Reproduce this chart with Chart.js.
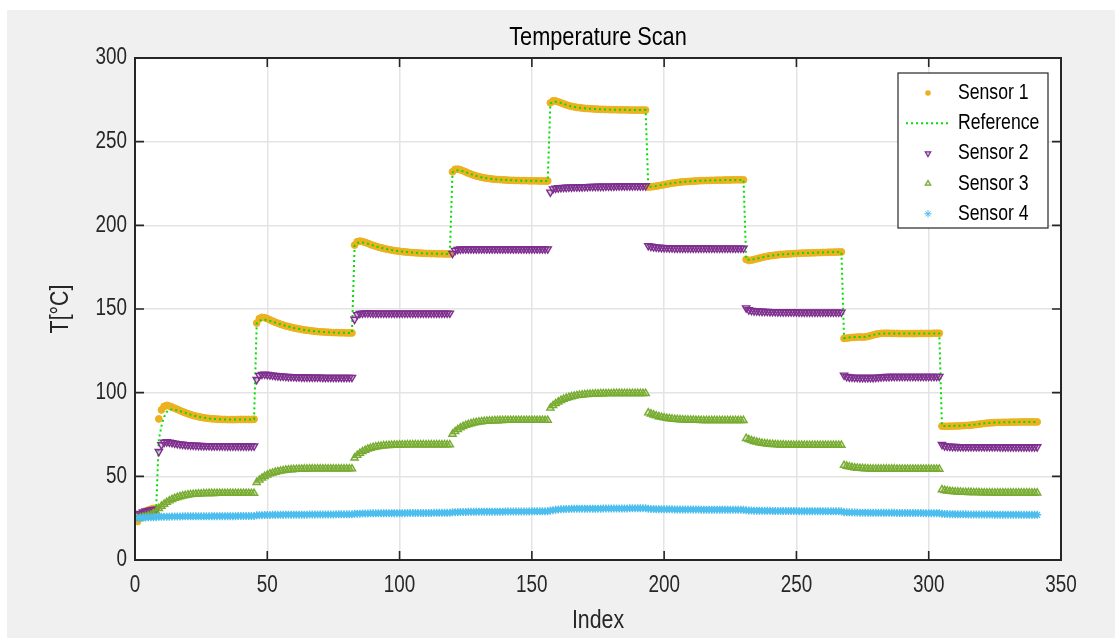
<!DOCTYPE html>
<html>
<head>
<meta charset="utf-8">
<title>Temperature Scan</title>
<script src="https://cdn.jsdelivr.net/npm/chart.js@4.4.1/dist/chart.umd.min.js"></script>
<style>
  html, body { margin: 0; padding: 0; background: #ffffff; }
  canvas { display: block; }
</style>
</head>
<body>
<canvas id="scan" width="1115" height="638"></canvas>
<script>
// ---- measured temperatures, one value per sample index (1..341) ----
// 8 ambient samples, then nine set-point plateaus of 37 samples each

const sensor1 = [
  23.0, 26.5, 28.0, 29.0, 29.8, 30.4, 30.8, 31.0,
  84.3, 89.7, 91.8, 92.4, 92.0, 91.4, 90.7, 90.0, 89.3, 88.6,
  88.0, 87.4, 86.9, 86.4, 86.0, 85.6, 85.3, 85.0, 84.8, 84.6,
  84.4, 84.3, 84.2, 84.1, 84.0, 84.0, 83.9, 83.9, 83.9, 83.9,
  84.0, 84.0, 84.0, 84.0, 84.0, 84.0, 84.1,
  141.6, 144.3, 145.0, 144.8, 144.2, 143.5, 142.8, 142.1, 141.5, 140.9,
  140.4, 139.9, 139.5, 139.1, 138.7, 138.4, 138.1, 137.8, 137.5, 137.3,
  137.1, 136.9, 136.7, 136.5, 136.4, 136.3, 136.2, 136.1, 136.0, 135.9,
  135.9, 135.8, 135.8, 135.8, 135.7, 135.7, 135.7,
  188.2, 190.2, 190.6, 190.3, 189.8, 189.2, 188.6, 188.0, 187.5, 187.0,
  186.6, 186.2, 185.8, 185.5, 185.2, 184.9, 184.7, 184.5, 184.3, 184.1,
  184.0, 183.8, 183.7, 183.6, 183.5, 183.4, 183.3, 183.2, 183.2, 183.1,
  183.1, 183.0, 183.0, 183.0, 182.9, 182.9, 182.9,
  232.0, 233.5, 233.6, 233.2, 232.6, 231.9, 231.2, 230.6, 230.0, 229.5,
  229.1, 228.7, 228.4, 228.1, 227.9, 227.7, 227.5, 227.4, 227.3, 227.2,
  227.1, 227.0, 226.9, 226.9, 226.8, 226.8, 226.7, 226.7, 226.7, 226.6,
  226.6, 226.6, 226.6, 226.5, 226.5, 226.5, 226.5,
  273.2, 274.4, 274.3, 273.8, 273.2, 272.6, 272.0, 271.5, 271.1, 270.8,
  270.5, 270.3, 270.1, 269.9, 269.8, 269.7, 269.6, 269.5, 269.4, 269.3,
  269.3, 269.2, 269.2, 269.1, 269.1, 269.1, 269.0, 269.0, 269.0, 269.0,
  268.9, 268.9, 268.9, 268.9, 268.9, 268.9, 268.9,
  222.9, 223.0, 223.2, 223.4, 223.7, 224.0, 224.3, 224.6, 224.9, 225.2,
  225.4, 225.6, 225.8, 226.0, 226.1, 226.2, 226.3, 226.4, 226.5, 226.6,
  226.7, 226.7, 226.8, 226.8, 226.9, 226.9, 227.0, 227.0, 227.0, 227.1,
  227.1, 227.1, 227.2, 227.2, 227.2, 227.2, 227.2,
  179.6, 179.0, 179.2, 179.6, 180.0, 180.4, 180.8, 181.2, 181.5, 181.8,
  182.0, 182.2, 182.4, 182.6, 182.7, 182.8, 182.9, 183.0, 183.1, 183.2,
  183.3, 183.4, 183.4, 183.5, 183.5, 183.6, 183.6, 183.7, 183.7, 183.8,
  183.8, 183.9, 183.9, 184.0, 184.0, 184.1, 184.1,
  132.4, 132.6, 132.8, 133.0, 133.1, 133.2, 133.3, 133.2, 133.3, 133.6,
  134.0, 134.5, 134.9, 135.2, 135.4, 135.5, 135.5, 135.5, 135.4, 135.4,
  135.4, 135.3, 135.3, 135.3, 135.3, 135.3, 135.3, 135.3, 135.4, 135.4,
  135.4, 135.4, 135.4, 135.4, 135.5, 135.5, 135.5,
  80.0, 79.9, 79.9, 80.0, 80.0, 80.1, 80.1, 80.2, 80.3, 80.4,
  80.5, 80.6, 80.8, 81.0, 81.2, 81.4, 81.6, 81.8, 81.9, 82.0,
  82.1, 82.2, 82.2, 82.3, 82.3, 82.3, 82.4, 82.4, 82.4, 82.4,
  82.5, 82.5, 82.5, 82.5, 82.5, 82.5, 82.5
];

const reference = [
  24.0, 25.8, 27.2, 28.2, 29.0, 29.5, 29.9, 30.2,
  72.0, 80.0, 85.5, 88.5, 89.8, 90.0, 89.8, 89.4, 89.0, 88.5,
  88.0, 87.4, 86.9, 86.4, 86.0, 85.6, 85.3, 85.0, 84.8, 84.6,
  84.4, 84.3, 84.2, 84.1, 84.0, 84.0, 83.9, 83.9, 83.9, 83.9,
  84.0, 84.0, 84.0, 84.0, 84.0, 84.0, 84.1,
  141.3, 143.0, 143.6, 143.6, 143.3, 142.9, 142.4, 141.9, 141.4, 140.9,
  140.4, 139.9, 139.5, 139.1, 138.7, 138.4, 138.1, 137.8, 137.5, 137.3,
  137.1, 136.9, 136.7, 136.5, 136.4, 136.3, 136.2, 136.1, 136.0, 135.9,
  135.9, 135.8, 135.8, 135.8, 135.7, 135.7, 135.7,
  187.8, 189.4, 189.8, 189.7, 189.4, 189.0, 188.5, 188.0, 187.5, 187.0,
  186.6, 186.2, 185.8, 185.5, 185.2, 184.9, 184.7, 184.5, 184.3, 184.1,
  184.0, 183.8, 183.7, 183.6, 183.5, 183.4, 183.3, 183.2, 183.2, 183.1,
  183.1, 183.0, 183.0, 183.0, 182.9, 182.9, 182.9,
  231.6, 232.7, 232.9, 232.7, 232.3, 231.8, 231.2, 230.6, 230.0, 229.5,
  229.1, 228.7, 228.4, 228.1, 227.9, 227.7, 227.5, 227.4, 227.3, 227.2,
  227.1, 227.0, 226.9, 226.9, 226.8, 226.8, 226.7, 226.7, 226.7, 226.6,
  226.6, 226.6, 226.6, 226.5, 226.5, 226.5, 226.5,
  272.8, 273.8, 273.9, 273.6, 273.1, 272.6, 272.0, 271.5, 271.1, 270.8,
  270.5, 270.3, 270.1, 269.9, 269.8, 269.7, 269.6, 269.5, 269.4, 269.3,
  269.3, 269.2, 269.2, 269.1, 269.1, 269.1, 269.0, 269.0, 269.0, 269.0,
  268.9, 268.9, 268.9, 268.9, 268.9, 268.9, 268.9,
  223.0, 223.1, 223.3, 223.5, 223.8, 224.1, 224.4, 224.7, 224.9, 225.2,
  225.4, 225.6, 225.8, 226.0, 226.1, 226.2, 226.3, 226.4, 226.5, 226.6,
  226.7, 226.7, 226.8, 226.8, 226.9, 226.9, 227.0, 227.0, 227.0, 227.1,
  227.1, 227.1, 227.1, 227.1, 227.1, 227.1, 227.1,
  179.8, 179.4, 179.5, 179.8, 180.1, 180.5, 180.9, 181.2, 181.5, 181.8,
  182.0, 182.2, 182.4, 182.6, 182.7, 182.8, 182.9, 183.0, 183.1, 183.2,
  183.3, 183.4, 183.4, 183.5, 183.5, 183.6, 183.6, 183.7, 183.7, 183.8,
  183.8, 183.9, 183.9, 184.0, 184.0, 184.0, 184.0,
  132.6, 132.8, 133.0, 133.1, 133.2, 133.3, 133.3, 133.3, 133.4, 133.7,
  134.1, 134.5, 134.9, 135.2, 135.3, 135.4, 135.4, 135.4, 135.4, 135.4,
  135.3, 135.3, 135.3, 135.3, 135.3, 135.3, 135.3, 135.3, 135.4, 135.4,
  135.4, 135.4, 135.4, 135.4, 135.4, 135.4, 135.4,
  80.2, 80.1, 80.1, 80.1, 80.1, 80.2, 80.2, 80.3, 80.4, 80.5,
  80.6, 80.7, 80.9, 81.1, 81.3, 81.5, 81.7, 81.8, 81.9, 82.0,
  82.1, 82.2, 82.2, 82.3, 82.3, 82.3, 82.4, 82.4, 82.4, 82.4,
  82.4, 82.4, 82.4, 82.4, 82.4, 82.4, 82.4
];

const sensor2 = [
  26.8, 27.8, 28.6, 29.2, 29.6, 29.9, 30.1, 30.3,
  64.8, 68.8, 70.3, 70.6, 70.4, 70.1, 69.8, 69.5, 69.3, 69.1,
  68.9, 68.8, 68.7, 68.6, 68.5, 68.4, 68.4, 68.3, 68.3, 68.3,
  68.2, 68.2, 68.2, 68.2, 68.2, 68.1, 68.1, 68.1, 68.1, 68.1,
  68.1, 68.1, 68.1, 68.1, 68.1, 68.1, 68.1,
  107.8, 110.2, 110.9, 111.0, 110.8, 110.6, 110.4, 110.2, 110.0, 109.9,
  109.8, 109.7, 109.6, 109.5, 109.5, 109.4, 109.4, 109.3, 109.3, 109.3,
  109.2, 109.2, 109.2, 109.2, 109.2, 109.1, 109.1, 109.1, 109.1, 109.1,
  109.1, 109.1, 109.1, 109.1, 109.1, 109.1, 109.1,
  143.8, 146.6, 147.3, 147.5, 147.6, 147.6, 147.6, 147.5, 147.5, 147.5,
  147.5, 147.5, 147.5, 147.5, 147.5, 147.5, 147.5, 147.5, 147.5, 147.5,
  147.5, 147.5, 147.5, 147.5, 147.5, 147.5, 147.5, 147.5, 147.5, 147.5,
  147.5, 147.5, 147.5, 147.5, 147.5, 147.5, 147.5,
  183.2, 185.0, 185.6, 185.8, 185.9, 185.9, 185.9, 185.9, 185.9, 185.9,
  185.9, 185.9, 185.9, 185.9, 185.9, 185.9, 185.9, 185.9, 185.9, 185.9,
  185.9, 185.9, 185.9, 185.9, 185.9, 185.9, 185.9, 185.9, 185.9, 185.9,
  185.9, 185.9, 185.9, 185.9, 185.9, 185.9, 185.9,
  219.8, 221.7, 222.2, 222.4, 222.5, 222.6, 222.7, 222.8, 222.8, 222.9,
  222.9, 223.0, 223.0, 223.1, 223.1, 223.2, 223.2, 223.2, 223.3, 223.3,
  223.3, 223.4, 223.4, 223.4, 223.4, 223.5, 223.5, 223.5, 223.5, 223.5,
  223.6, 223.6, 223.6, 223.6, 223.6, 223.6, 223.6,
  187.8, 187.4, 187.1, 186.9, 186.8, 186.7, 186.6, 186.6, 186.5, 186.5,
  186.4, 186.4, 186.4, 186.4, 186.4, 186.4, 186.4, 186.4, 186.4, 186.4,
  186.4, 186.4, 186.4, 186.4, 186.3, 186.3, 186.3, 186.3, 186.3, 186.3,
  186.3, 186.3, 186.3, 186.3, 186.3, 186.3, 186.3,
  150.6, 149.5, 149.1, 148.9, 148.8, 148.7, 148.6, 148.5, 148.5, 148.4,
  148.4, 148.4, 148.3, 148.3, 148.3, 148.3, 148.2, 148.2, 148.2, 148.2,
  148.1, 148.1, 148.1, 148.1, 148.1, 148.1, 148.1, 148.1, 148.1, 148.1,
  148.1, 148.1, 148.1, 148.1, 148.1, 148.1, 148.1,
  110.4, 109.6, 109.3, 109.2, 109.1, 109.1, 109.0, 109.0, 109.0, 109.0,
  109.0, 109.0, 109.1, 109.2, 109.4, 109.5, 109.6, 109.6, 109.7, 109.7,
  109.7, 109.7, 109.7, 109.7, 109.7, 109.7, 109.7, 109.7, 109.7, 109.7,
  109.7, 109.7, 109.7, 109.7, 109.7, 109.7, 109.7,
  69.0, 68.2, 68.0, 67.9, 67.8, 67.8, 67.7, 67.7, 67.7, 67.7,
  67.7, 67.7, 67.7, 67.7, 67.7, 67.7, 67.7, 67.7, 67.7, 67.7,
  67.7, 67.7, 67.6, 67.6, 67.6, 67.6, 67.6, 67.6, 67.6, 67.6,
  67.6, 67.6, 67.6, 67.6, 67.6, 67.6, 67.6
];

const sensor3 = [
  24.8, 25.2, 25.6, 26.0, 26.4, 26.9, 27.6, 28.8,
  30.8, 32.2, 33.4, 34.5, 35.4, 36.2, 36.9, 37.4, 37.9, 38.3,
  38.6, 38.9, 39.1, 39.3, 39.4, 39.5, 39.6, 39.7, 39.7, 39.8,
  39.8, 39.8, 39.9, 39.9, 39.9, 39.9, 39.9, 39.9, 39.9, 39.9,
  39.9, 39.9, 39.9, 39.9, 39.9, 39.9, 39.9,
  46.4, 47.8, 49.0, 50.0, 50.8, 51.5, 52.0, 52.5, 52.9, 53.2,
  53.5, 53.7, 53.9, 54.0, 54.1, 54.2, 54.3, 54.3, 54.4, 54.4,
  54.5, 54.5, 54.5, 54.5, 54.5, 54.5, 54.5, 54.5, 54.5, 54.5,
  54.5, 54.5, 54.5, 54.5, 54.5, 54.5, 54.5,
  61.0, 62.6, 63.8, 64.8, 65.6, 66.3, 66.8, 67.3, 67.6, 67.9,
  68.1, 68.3, 68.4, 68.5, 68.6, 68.7, 68.7, 68.8, 68.8, 68.8,
  68.9, 68.9, 68.9, 68.9, 68.9, 68.9, 68.9, 68.9, 68.9, 68.9,
  68.9, 68.9, 68.9, 68.9, 68.9, 68.9, 68.9,
  75.2, 76.8, 78.0, 79.0, 79.8, 80.5, 81.0, 81.5, 81.9, 82.2,
  82.5, 82.7, 82.9, 83.0, 83.1, 83.2, 83.3, 83.3, 83.4, 83.4,
  83.5, 83.5, 83.5, 83.5, 83.5, 83.5, 83.5, 83.5, 83.5, 83.5,
  83.5, 83.5, 83.5, 83.5, 83.5, 83.5, 83.5,
  90.8, 92.3, 93.5, 94.5, 95.4, 96.1, 96.7, 97.2, 97.6, 98.0,
  98.3, 98.5, 98.7, 98.9, 99.0, 99.1, 99.2, 99.3, 99.3, 99.4,
  99.4, 99.5, 99.5, 99.5, 99.6, 99.6, 99.6, 99.6, 99.6, 99.6,
  99.6, 99.6, 99.6, 99.6, 99.6, 99.6, 99.6,
  88.0, 87.3, 86.7, 86.2, 85.7, 85.3, 85.0, 84.7, 84.5, 84.3,
  84.1, 84.0, 83.9, 83.8, 83.7, 83.7, 83.6, 83.6, 83.5, 83.5,
  83.4, 83.4, 83.4, 83.4, 83.4, 83.4, 83.4, 83.4, 83.4, 83.4,
  83.4, 83.4, 83.4, 83.4, 83.4, 83.4, 83.4,
  72.7, 72.0, 71.4, 70.9, 70.5, 70.1, 69.8, 69.6, 69.4, 69.2,
  69.1, 69.0, 68.9, 68.8, 68.8, 68.7, 68.7, 68.7, 68.6, 68.6,
  68.6, 68.6, 68.6, 68.6, 68.6, 68.6, 68.6, 68.6, 68.6, 68.6,
  68.6, 68.6, 68.6, 68.6, 68.6, 68.6, 68.6,
  56.6, 56.1, 55.7, 55.4, 55.1, 54.9, 54.8, 54.7, 54.6, 54.5,
  54.4, 54.4, 54.4, 54.4, 54.4, 54.4, 54.4, 54.4, 54.4, 54.4,
  54.3, 54.3, 54.3, 54.3, 54.3, 54.3, 54.3, 54.3, 54.3, 54.3,
  54.3, 54.3, 54.3, 54.3, 54.3, 54.3, 54.3,
  42.0, 41.6, 41.3, 41.1, 40.9, 40.8, 40.7, 40.6, 40.5, 40.5,
  40.4, 40.4, 40.3, 40.3, 40.3, 40.2, 40.2, 40.2, 40.2, 40.1,
  40.1, 40.1, 40.1, 40.1, 40.1, 40.1, 40.1, 40.1, 40.1, 40.1,
  40.1, 40.1, 40.1, 40.1, 40.1, 40.1, 40.1
];

const sensor4 = [
  25.0, 25.2, 25.3, 25.4, 25.5, 25.5, 25.6, 25.6,
  25.8, 25.8, 25.9, 25.9, 25.9, 26.0, 26.0, 26.0, 26.0, 26.1,
  26.1, 26.1, 26.1, 26.1, 26.1, 26.1, 26.1, 26.1, 26.1, 26.1,
  26.2, 26.2, 26.2, 26.2, 26.2, 26.2, 26.2, 26.2, 26.2, 26.2,
  26.3, 26.3, 26.3, 26.3, 26.3, 26.3, 26.3,
  26.7, 26.8, 26.8, 26.9, 26.9, 26.9, 27.0, 27.0, 27.0, 27.0,
  27.1, 27.1, 27.1, 27.1, 27.1, 27.1, 27.1, 27.1, 27.1, 27.1,
  27.2, 27.2, 27.2, 27.2, 27.2, 27.2, 27.2, 27.2, 27.2, 27.2,
  27.3, 27.3, 27.3, 27.3, 27.3, 27.3, 27.3,
  27.6, 27.7, 27.7, 27.8, 27.8, 27.8, 27.9, 27.9, 27.9, 27.9,
  28.0, 28.0, 28.0, 28.0, 28.0, 28.0, 28.0, 28.0, 28.0, 28.0,
  28.1, 28.1, 28.1, 28.1, 28.1, 28.1, 28.1, 28.1, 28.1, 28.1,
  28.2, 28.2, 28.2, 28.2, 28.2, 28.2, 28.2,
  28.5, 28.6, 28.6, 28.7, 28.7, 28.7, 28.8, 28.8, 28.8, 28.8,
  28.9, 28.9, 28.9, 28.9, 28.9, 28.9, 28.9, 28.9, 28.9, 28.9,
  29.0, 29.0, 29.0, 29.0, 29.0, 29.0, 29.0, 29.0, 29.0, 29.0,
  29.1, 29.1, 29.1, 29.1, 29.1, 29.1, 29.1,
  29.6, 29.8, 30.0, 30.2, 30.3, 30.4, 30.5, 30.5, 30.6, 30.6,
  30.7, 30.7, 30.7, 30.7, 30.7, 30.7, 30.7, 30.7, 30.7, 30.7,
  30.8, 30.8, 30.8, 30.8, 30.8, 30.8, 30.8, 30.8, 30.8, 30.8,
  30.9, 30.9, 30.9, 30.9, 30.9, 30.9, 30.9,
  30.6, 30.5, 30.5, 30.4, 30.4, 30.4, 30.3, 30.3, 30.3, 30.3,
  30.2, 30.2, 30.2, 30.2, 30.2, 30.2, 30.2, 30.2, 30.2, 30.2,
  30.1, 30.1, 30.1, 30.1, 30.1, 30.1, 30.1, 30.1, 30.1, 30.1,
  30.0, 30.0, 30.0, 30.0, 30.0, 30.0, 30.0,
  29.7, 29.6, 29.6, 29.5, 29.5, 29.5, 29.4, 29.4, 29.4, 29.4,
  29.3, 29.3, 29.3, 29.3, 29.3, 29.3, 29.3, 29.3, 29.3, 29.3,
  29.2, 29.2, 29.2, 29.2, 29.2, 29.2, 29.2, 29.2, 29.2, 29.2,
  29.1, 29.1, 29.1, 29.1, 29.1, 29.1, 29.1,
  28.6, 28.5, 28.5, 28.4, 28.4, 28.4, 28.3, 28.3, 28.3, 28.3,
  28.2, 28.2, 28.2, 28.2, 28.2, 28.2, 28.2, 28.2, 28.2, 28.2,
  28.1, 28.1, 28.1, 28.1, 28.1, 28.1, 28.1, 28.1, 28.1, 28.1,
  28.0, 28.0, 28.0, 28.0, 28.0, 28.0, 28.0,
  27.6, 27.5, 27.5, 27.4, 27.4, 27.4, 27.3, 27.3, 27.3, 27.3,
  27.2, 27.2, 27.2, 27.2, 27.2, 27.2, 27.2, 27.2, 27.2, 27.2,
  27.1, 27.1, 27.1, 27.1, 27.1, 27.1, 27.1, 27.1, 27.1, 27.1,
  27.0, 27.0, 27.0, 27.0, 27.0, 27.0, 27.0
];

const seriesNames = ['Sensor 1', 'Reference', 'Sensor 2', 'Sensor 3', 'Sensor 4'];
const xTickValues = [0, 50, 100, 150, 200, 250, 300, 350];
const yTickValues = [0, 50, 100, 150, 200, 250, 300];

// ---- styling ----
const FONT = "'Liberation Sans', Arial, sans-serif";
const TEXT_CONDENSE = 0.82;   // narrow lettering, as in a condensed sans
const INK = '#262626';
const COLORS = {
  s1: '#EDB120',
  ref: '#00E000',
  s2: '#7E2F8E',
  s3: '#77AC30',
  s4: '#4DBEEE'
};

const canvas = document.getElementById('scan');
const ctx2d = canvas.getContext('2d');

// draw every label horizontally condensed around its anchor point
const nativeFillText = ctx2d.fillText.bind(ctx2d);
ctx2d.fillText = function (text, x, y, maxWidth) {
  ctx2d.save();
  ctx2d.translate(x, y);
  ctx2d.scale(TEXT_CONDENSE, 1);
  if (maxWidth === undefined) nativeFillText(text, 0, 0);
  else nativeFillText(text, 0, 0, maxWidth / TEXT_CONDENSE);
  ctx2d.restore();
};

// x is the sample index, starting at 1
function indexed(values) {
  return values.map((v, i) => ({ x: i + 1, y: v }));
}

// grey figure surround with a white axes area
const figureBackground = {
  id: 'figureBackground',
  beforeDraw(chart) {
    const { ctx, chartArea: a, width, height } = chart;
    ctx.save();
    ctx.fillStyle = '#ffffff';
    ctx.fillRect(0, 0, width, height);
    ctx.fillStyle = '#f0f0f0';
    ctx.fillRect(7, 10, width - 7, height - 10);
    ctx.fillStyle = '#ffffff';
    ctx.fillRect(a.left, a.top, a.right - a.left, a.bottom - a.top);
    ctx.restore();
  }
};

// closed axes box with inward tick marks on all four sides
const axesFrame = {
  id: 'axesFrame',
  afterDatasetsDraw(chart) {
    const { ctx, chartArea: a, scales } = chart;
    const len = 9;
    ctx.save();
    ctx.strokeStyle = INK;
    ctx.lineWidth = 1.6;
    ctx.beginPath();
    xTickValues.forEach(v => {
      const px = scales.x.getPixelForValue(v);
      ctx.moveTo(px, a.bottom); ctx.lineTo(px, a.bottom - len);
      ctx.moveTo(px, a.top); ctx.lineTo(px, a.top + len);
    });
    yTickValues.forEach(v => {
      const py = scales.y.getPixelForValue(v);
      ctx.moveTo(a.left, py); ctx.lineTo(a.left + len, py);
      ctx.moveTo(a.right, py); ctx.lineTo(a.right - len, py);
    });
    ctx.stroke();
    ctx.lineWidth = 2;
    ctx.strokeRect(a.left, a.top, a.right - a.left, a.bottom - a.top);
    ctx.restore();
  }
};

function drawMarker(ctx, style, x, y, r, rotation) {
  ctx.beginPath();
  if (style === 'circle') {
    ctx.arc(x, y, r, 0, Math.PI * 2);
    ctx.fill();
    return;
  }
  if (style === 'triangle') {
    const rot = (rotation || 0) * Math.PI / 180;
    for (let k = 0; k < 3; k++) {
      const ang = rot - Math.PI / 2 + k * 2 * Math.PI / 3;
      const px = x + r * Math.cos(ang), py = y + r * Math.sin(ang);
      if (k === 0) ctx.moveTo(px, py); else ctx.lineTo(px, py);
    }
    ctx.closePath();
    ctx.fill();
    ctx.stroke();
    return;
  }
  if (style === 'star') {
    ctx.moveTo(x - r, y); ctx.lineTo(x + r, y);
    ctx.moveTo(x, y - r); ctx.lineTo(x, y + r);
    const d = r * 0.707;
    ctx.moveTo(x - d, y - d); ctx.lineTo(x + d, y + d);
    ctx.moveTo(x - d, y + d); ctx.lineTo(x + d, y - d);
    ctx.stroke();
  }
}

// boxed legend in the upper right of the axes
const boxedLegend = {
  id: 'boxedLegend',
  afterDraw(chart) {
    const { ctx, chartArea: a } = chart;
    const w = 150, h = 155;
    const x0 = a.right - 13 - w, y0 = a.top + 15;
    ctx.save();
    ctx.fillStyle = '#ffffff';
    ctx.fillRect(x0, y0, w, h);
    ctx.strokeStyle = INK;
    ctx.lineWidth = 1.2;
    ctx.strokeRect(x0, y0, w, h);
    ctx.font = '21.5px ' + FONT;
    ctx.textBaseline = 'middle';
    ctx.textAlign = 'left';
    chart.data.datasets.forEach((ds, i) => {
      const cy = y0 + 20 + i * 30.2;
      const cx = x0 + 30;
      ctx.save();
      if (ds.pointRadius === 0) {
        ctx.strokeStyle = ds.borderColor;
        ctx.lineWidth = ds.borderWidth;
        ctx.setLineDash(ds.borderDash);
        ctx.beginPath();
        ctx.moveTo(x0 + 8, cy);
        ctx.lineTo(x0 + 53, cy);
        ctx.stroke();
      } else {
        ctx.fillStyle = ds.pointBackgroundColor;
        ctx.strokeStyle = ds.pointBorderColor;
        ctx.lineWidth = ds.pointStyle === 'star' ? 1 : 1.2;
        const r = ds.pointStyle === 'circle' ? 2.8 : (ds.pointStyle === 'star' ? 3.6 : 3.2);
        drawMarker(ctx, ds.pointStyle, cx, cy, r, ds.pointRotation);
      }
      ctx.restore();
      ctx.fillStyle = '#000000';
      ctx.fillText(ds.label, x0 + 60, cy);
    });
    ctx.restore();
  }
};

const datasets = [
  {
    label: seriesNames[0], data: indexed(sensor1), order: 5,
    showLine: false, pointStyle: 'circle', pointRadius: 3.4, pointRotation: 0,
    pointBackgroundColor: COLORS.s1, pointBorderColor: COLORS.s1, pointBorderWidth: 1,
    borderColor: COLORS.s1, backgroundColor: COLORS.s1
  },
  {
    label: seriesNames[1], data: indexed(reference), order: 4,
    showLine: true, borderColor: COLORS.ref, borderWidth: 2, borderDash: [2, 3],
    pointRadius: 0, tension: 0, fill: false
  },
  {
    label: seriesNames[2], data: indexed(sensor2), order: 3,
    showLine: false, pointStyle: 'triangle', pointRadius: 4.2, pointRotation: 180,
    pointBackgroundColor: 'rgba(126,47,142,0.25)', pointBorderColor: COLORS.s2, pointBorderWidth: 1.4,
    borderColor: COLORS.s2
  },
  {
    label: seriesNames[3], data: indexed(sensor3), order: 2,
    showLine: false, pointStyle: 'triangle', pointRadius: 4.2, pointRotation: 0,
    pointBackgroundColor: 'rgba(119,172,48,0.25)', pointBorderColor: COLORS.s3, pointBorderWidth: 1.4,
    borderColor: COLORS.s3
  },
  {
    label: seriesNames[4], data: indexed(sensor4), order: 1,
    showLine: false, pointStyle: 'star', pointRadius: 4, pointRotation: 0,
    pointBackgroundColor: COLORS.s4, pointBorderColor: COLORS.s4, pointBorderWidth: 1.4,
    borderColor: COLORS.s4
  }
];

new Chart(canvas, {
  type: 'line',
  data: { datasets },
  plugins: [figureBackground, axesFrame, boxedLegend],
  options: {
    responsive: false,
    animation: false,
    devicePixelRatio: 1,
    events: [],
    layout: { padding: { left: 0, right: 54, top: 0, bottom: 0 } },
    plugins: {
      legend: { display: false },
      tooltip: { enabled: false },
      title: {
        display: true,
        text: 'Temperature Scan',
        fullSize: false,
        color: '#000000',
        font: { family: FONT, size: 26.5, weight: 'normal', lineHeight: 1.2 },
        padding: { top: 22.1, bottom: 4.1 }
      }
    },
    scales: {
      x: {
        type: 'linear',
        min: 0, max: 350,
        afterBuildTicks(scale) { scale.ticks = xTickValues.map(v => ({ value: v })); },
        ticks: {
          color: INK, padding: 12, maxRotation: 0, autoSkip: false,
          font: { family: FONT, size: 23, lineHeight: 1.2 }
        },
        grid: { color: '#e4e4e4', lineWidth: 1.5, drawTicks: false },
        border: { display: false },
        title: {
          display: true, text: 'Index', color: INK,
          font: { family: FONT, size: 26, lineHeight: 1.2 },
          padding: { top: 0, bottom: 1.4 }
        },
        afterFit(scale) { scale.height = 78; }
      },
      y: {
        type: 'linear',
        min: 0, max: 300,
        afterBuildTicks(scale) { scale.ticks = yTickValues.map(v => ({ value: v })); },
        ticks: {
          color: INK, padding: 8,
          font: { family: FONT, size: 23, lineHeight: 1.2 }
        },
        grid: { color: '#e4e4e4', lineWidth: 1.5, drawTicks: false },
        border: { display: false },
        title: {
          display: true, text: 'T[°C]', color: INK,
          font: { family: FONT, size: 26, lineHeight: 1.2 },
          padding: { top: 45.4, bottom: 0 }
        },
        afterFit(scale) { scale.width = 135; }
      }
    }
  }
});
</script>
</body>
</html>
